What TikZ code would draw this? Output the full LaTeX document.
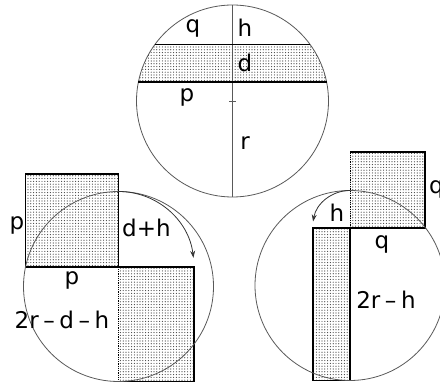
\documentclass[tikz,border=0pt]{standalone}
\usepackage{fontspec}
\setmainfont{DejaVu Sans}
\usetikzlibrary{arrows.meta, patterns.meta, calc}
\newcommand{\gap}{\hspace{0.2em}}
\tikzset{
    geobase/.style={x=1pt, y=1pt, font=\fontsize{23}{26}\selectfont, >={Stealth[length=7pt, width=5pt]}},
    rim/.style={draw=black!65, line width=0.8pt},
    thickline/.style={draw, line width=1.6pt},
    seamline/.style={draw, densely dotted, line width=0.8pt},
    dotfill/.style={pattern={Dots[distance=2.8pt, radius=0.6pt]}, pattern color=black!75},
    turn/.style={draw=black!80, line width=0.8pt, ->},
    lbl/.style={inner sep=0pt},
}
\begin{document}
\begin{tikzpicture}[geobase]
\useasboundingbox (0,0) rectangle (440,383);

% ===================== TOP: SPHERE WITH SLICE =====================
\coordinate (t_c) at (232.5,282);
\coordinate (t_top) at (232.5,378);
\coordinate (t_bot) at (232.5,186);
\begin{scope}
    \clip (t_c) circle[radius=96];
    \fill[dotfill] (130,301) rectangle (335,338.5);
\end{scope}
\draw[rim] (t_c) circle[radius=96];
\draw[rim] (t_top) -- (t_bot);
\draw[rim] ($(t_c)+(-3.5,0)$) -- ($(t_c)+(3.5,0)$);
\draw[thickline] (154.9,338.5) -- (310.1,338.5);
\draw[thickline] (138.4,301) -- (326.6,301);

\node[lbl] (t_q) at (193,355) {q};
\node[lbl] (t_h) at (245,355) {h};
\node[lbl] (t_d) at (245,320) {d};
\node[lbl] (t_p) at (187,286) {p};
\node[lbl] (t_r) at (245,240) {r};

% ===================== LEFT: p^2 = (d+h)(2r-d-h) =====================
\coordinate (l_c) at (118.5,96.5);
\coordinate (l_k) at (118.5,116);
\fill[dotfill] (25.5,116) rectangle (118.5,209);
\fill[dotfill] (118.5,1.5) rectangle (194,116);
\draw[thickline] (l_k) -- (25.5,116) -- (25.5,209) -- (118.5,209) -- (l_k) -- (194,116) -- (194,1.5) -- (118.5,1.5);
\draw[seamline] (118.5,1.5) -- (l_k);
\draw[rim] (l_c) circle[radius=95];
\draw[turn] (118.5,191.5) arc[start angle=90, end angle=7, radius=75.5];

\node[lbl] (l_p1) at (17,158) {p};
\node[lbl, anchor=west] (l_dh) at (122,155) {d+h};
\node[lbl] (l_p2) at (72,103) {p};
\node[lbl] (l_rest) at (62,63) {2r\gap--\gap d\gap--\gap h};

% ===================== RIGHT: q^2 = h(2r-h) =====================
\coordinate (r_c) at (350,97.5);
\coordinate (r_k) at (350,155);
\fill[dotfill] (r_k) rectangle (425,231);
\fill[dotfill] (313,2.5) rectangle (r_k);
\draw[thickline] (350,231) -- (425,231) -- (425,155) -- (313,155) -- (313,2.5) -- (350,2.5) -- (r_k);
\draw[seamline] (r_k) -- (350,231);
\draw[rim] (r_c) circle[radius=95];
\draw[turn] (350,192.5) arc[start angle=90, end angle=170, radius=37.5];

\node[lbl] (r_h) at (337,170) {h};
\node[lbl] (r_q1) at (382,139) {q};
\node[lbl] (r_rest) at (386,83) {2r\gap--\gap h};
\node[lbl, anchor=base west] (r_q2) at (429,189) {q};

\end{tikzpicture}
\end{document}
